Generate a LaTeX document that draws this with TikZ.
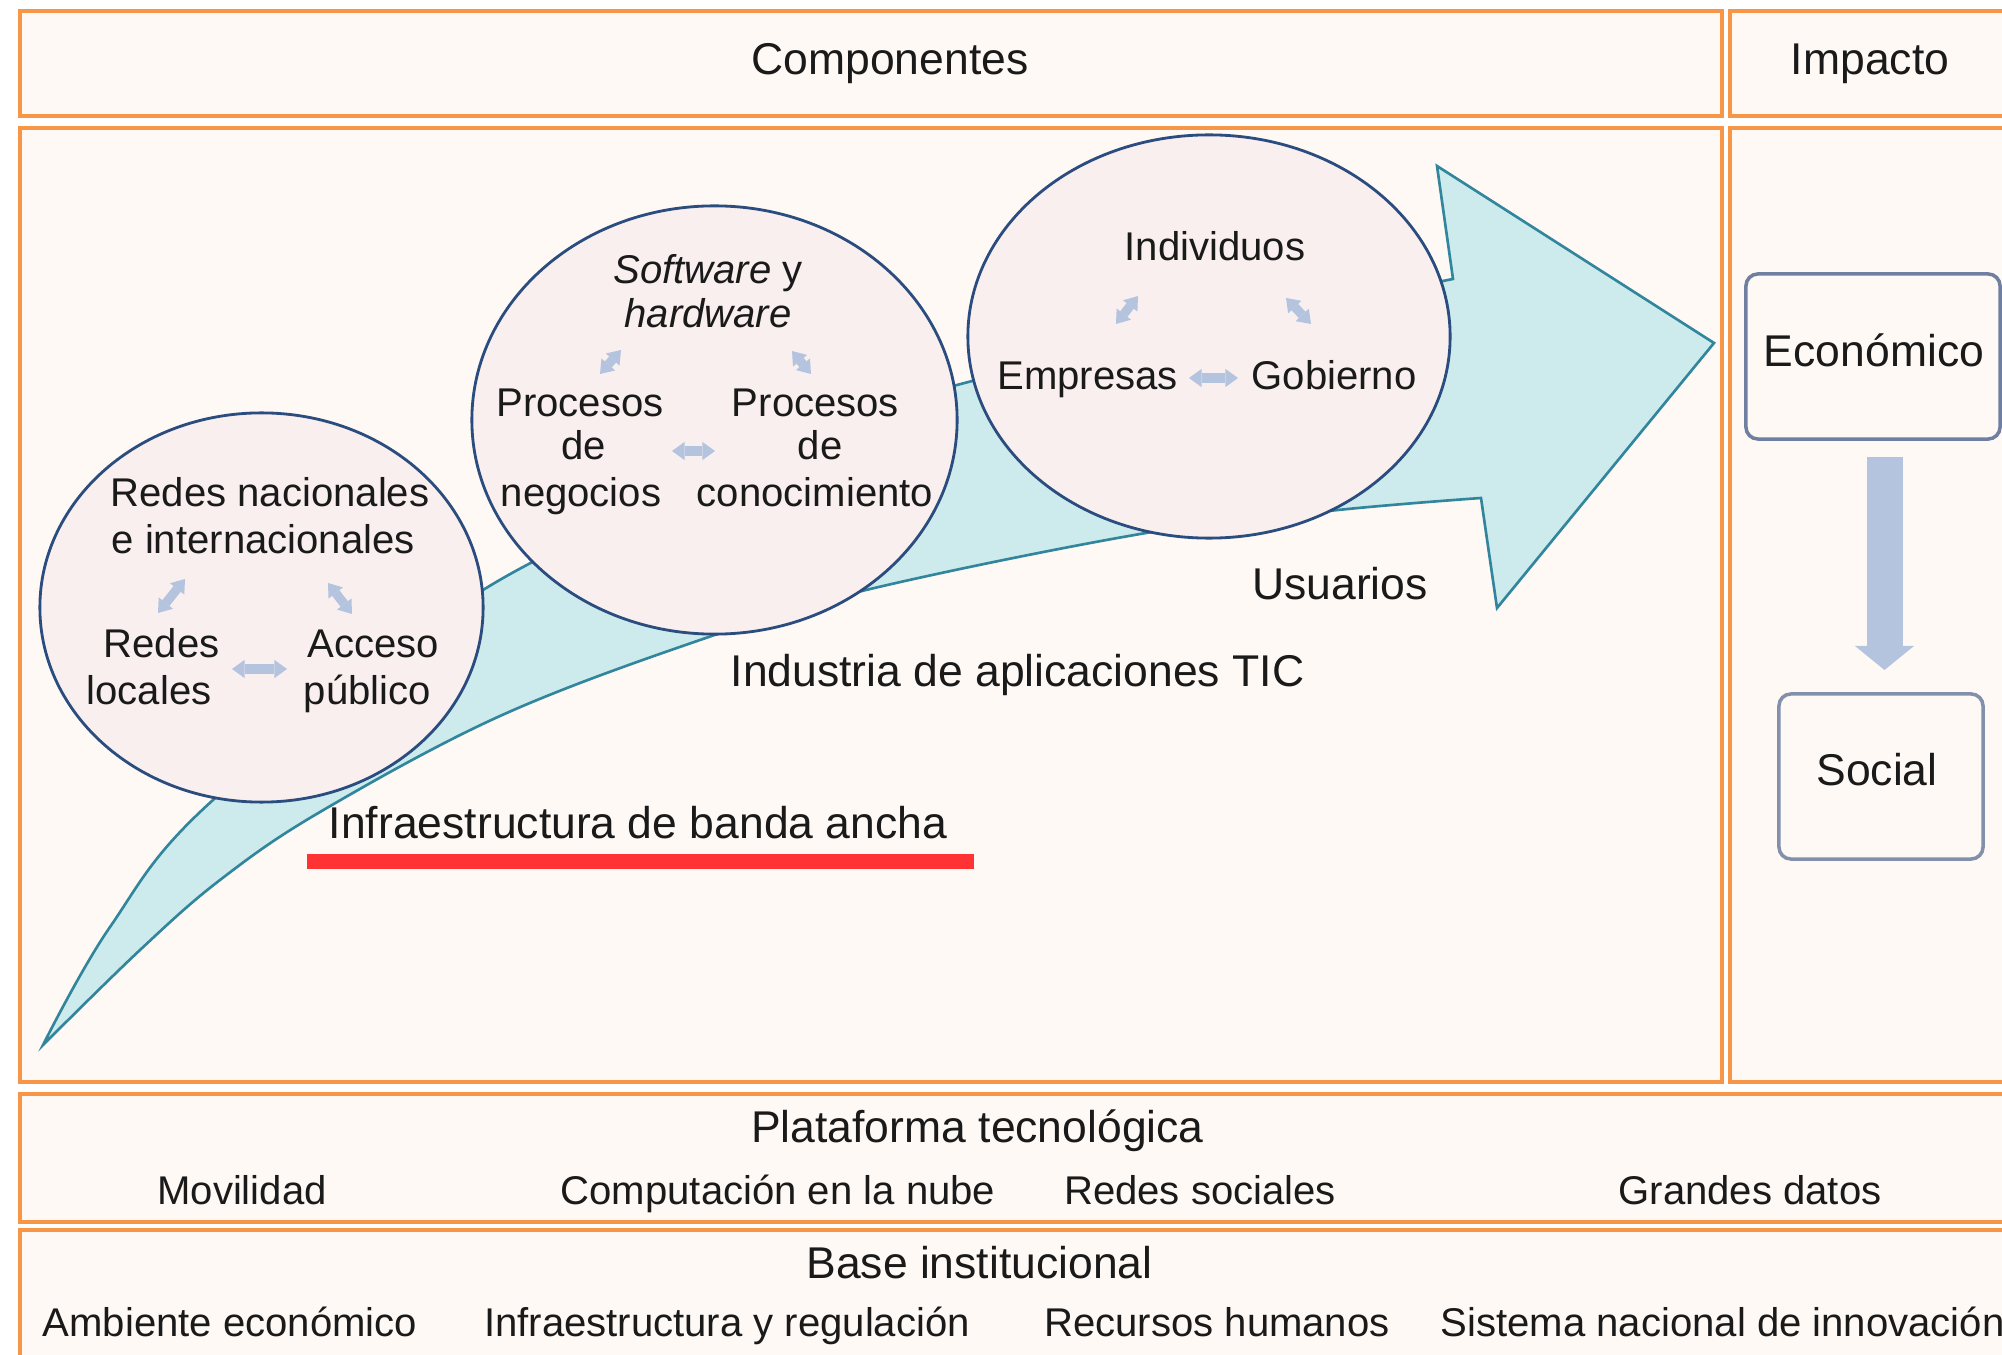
\documentclass[tikz,border=0pt]{standalone}
\usepackage{fontspec}
\setmainfont{Liberation Sans}
\usetikzlibrary{arrows.meta,shapes.geometric}
\definecolor{orangeline}{HTML}{F79646}
\definecolor{cream}{HTML}{FEF9F5}
\definecolor{circfill}{HTML}{F9EFEF}
\definecolor{circline}{HTML}{2B4C7E}
\definecolor{tealfill}{HTML}{CDEBEC}
\definecolor{tealline}{HTML}{31859C}
\definecolor{arrc}{HTML}{B4C3DE}
\definecolor{txtc}{HTML}{1A1A1A}
\definecolor{redbar}{HTML}{FF3333}
\definecolor{ecoline}{HTML}{6E7FA2}
\definecolor{socline}{HTML}{8390AC}
\begin{document}
\begin{tikzpicture}[x=0.01cm,y=-0.01cm,
  panel/.style={draw=orangeline,fill=cream,line width=1pt},
  big/.style={font=\fontsize{12.65pt}{15pt}\selectfont,text=txtc,inner sep=0pt,anchor=base},
  small/.style={font=\fontsize{11.4pt}{13.5pt}\selectfont,text=txtc,inner sep=0pt,anchor=base},
  bubble/.style={ellipse,draw=circline,fill=circfill,line width=0.8pt,inner sep=0pt},
  smallarr/.style={draw=arrc,line width=2.6pt,arrows={Triangle[length=3.6pt,width=5.2pt,line width=0pt]-Triangle[length=3.6pt,width=5.2pt,line width=0pt]}},
  bigarr/.style={draw=arrc,line width=0.36cm,arrows={-Triangle[length=0.24cm,width=0.59cm,line width=0pt]},shorten <=0.18cm,shorten >=0.24cm},
  impbox/.style={rounded corners=0.12cm,fill=cream,line width=1pt,inner sep=0pt}
]
\useasboundingbox (0,0) rectangle (2002,1355);
\fill[white] (0,0) rectangle (2002,1355);

% panels
\draw[panel] (20,11) rectangle (1722,116);
\draw[panel] (1730,11) rectangle (2015,116);
\draw[panel] (20,128) rectangle (1722,1082);
\draw[panel] (1730,128) rectangle (2015,1082);
\draw[panel] (20,1094) rectangle (2015,1222);
\draw[panel] (20,1230) rectangle (2015,1375);

\node[big] (comp) at (890,75) {Componentes};
\node[big] (imp) at (1870,75) {Impacto};

% curved big arrow
\path[draw=tealline,fill=tealfill,line width=0.75pt]
  plot[smooth,tension=0.6] coordinates {(43,1045) (110,927) (213,800) (483,590) (745,471) (957,385) (1453,279)}
  -- (1437,166) -- (1714,343) -- (1497,608) -- (1481,498)
  -- plot[smooth,tension=0.6] coordinates {(1481,498) (1338,510) (1146,533) (866,590) (700,640) (500,716) (320,812) (220,880) (140,950) (43,1045)}
  -- cycle;

% bubbles
\node[bubble,minimum width=4.43cm,minimum height=3.89cm] (c1) at (261.5,607.5) {};
\node[bubble,minimum width=4.85cm,minimum height=4.28cm] (c2) at (714.5,420) {};
\node[bubble,minimum width=4.82cm,minimum height=4.03cm] (c3) at (1209,336.5) {};

% bubble 1
\node[small,anchor=base west] (rn1) at (110,507) {Redes nacionales};
\node[small,anchor=base west] (rn2) at (111,554) {e internacionales};
\node[small] (rl1) at (161.5,658) {Redes};
\node[small] (rl2) at (149,705) {locales};
\node[small] (ap1) at (373,658) {Acceso};
\node[small] (ap2) at (367.5,705) {público};
\coordinate (a1s) at (158,613); \coordinate (a1e) at (185,579);
\coordinate (a2s) at (328,583); \coordinate (a2e) at (352,614);
\coordinate (a3s) at (232,669); \coordinate (a3e) at (287,669);
\draw[smallarr] (a1s) -- (a1e);
\draw[smallarr] (a2s) -- (a2e);
\draw[smallarr] (a3s) -- (a3e);

% bubble 2
\node[small] (sw1) at (708,284) {\textit{Software} y};
\node[small] (sw2) at (708,328) {\textit{hardware}};
\node[small] (pn1) at (580,417) {Procesos};
\node[small] (pn2) at (584,460) {de};
\node[small] (pn3) at (581,507) {negocios};
\node[small] (pc1) at (815.5,417) {Procesos};
\node[small] (pc2) at (820,460) {de};
\node[small] (pc3) at (815,507) {conocimiento};
\coordinate (b1s) at (600,374); \coordinate (b1e) at (621,350);
\coordinate (b2s) at (792,351); \coordinate (b2e) at (811,374);
\coordinate (b3s) at (672,451); \coordinate (b3e) at (715,451);
\draw[smallarr] (b1s) -- (b1e);
\draw[smallarr] (b2s) -- (b2e);
\draw[smallarr] (b3s) -- (b3e);

% bubble 3
\node[small] (ind) at (1215,261) {Individuos};
\node[small] (emp) at (1087.5,390) {Empresas};
\node[small] (gob) at (1334,390) {Gobierno};
\coordinate (d1s) at (1116,324); \coordinate (d1e) at (1138,296);
\coordinate (d2s) at (1286,298); \coordinate (d2e) at (1311,324);
\coordinate (d3s) at (1189,378); \coordinate (d3e) at (1238,378);
\draw[smallarr] (d1s) -- (d1e);
\draw[smallarr] (d2s) -- (d2e);
\draw[smallarr] (d3s) -- (d3e);

% layer labels
\node[big] (usu) at (1340,600) {Usuarios};
\node[big] (ind2) at (1017.5,687) {Industria de aplicaciones TIC};
\node[big] (infra) at (638,838) {Infraestructura de banda ancha};
\fill[redbar] (307,854) rectangle (974,869);

% impact
\node[impbox,draw=ecoline,minimum width=2.54cm,minimum height=1.65cm] (eco) at (1873,356.5) {};
\node[impbox,draw=socline,minimum width=2.04cm,minimum height=1.65cm] (soc) at (1881,776.5) {};
\node[big] (ecot) at (1874,367) {Económico};
\node[big] (soct) at (1877,786) {Social};
\coordinate (ea) at (1884.5,439); \coordinate (sa) at (1884.5,694);
\draw[bigarr] (ea) -- (sa);

% platform
\node[big] (plat) at (977.5,1142) {Plataforma tecnológica};
\node[small] (mov) at (242,1204) {Movilidad};
\node[small] (nube) at (778,1204) {Computación en la nube};
\node[small] (rs) at (1200,1204) {Redes sociales};
\node[small] (gd) at (1750,1204) {Grandes datos};

% base
\node[big] (base) at (979.5,1278) {Base institucional};
\node[small] (amb) at (230,1336) {Ambiente económico};
\node[small] (ireg) at (727,1336) {Infraestructura y regulación};
\node[small] (rh) at (1217,1336) {Recursos humanos};
\node[small,anchor=base west] (sni) at (1440,1336) {Sistema nacional de innovación};
\end{tikzpicture}
\end{document}
